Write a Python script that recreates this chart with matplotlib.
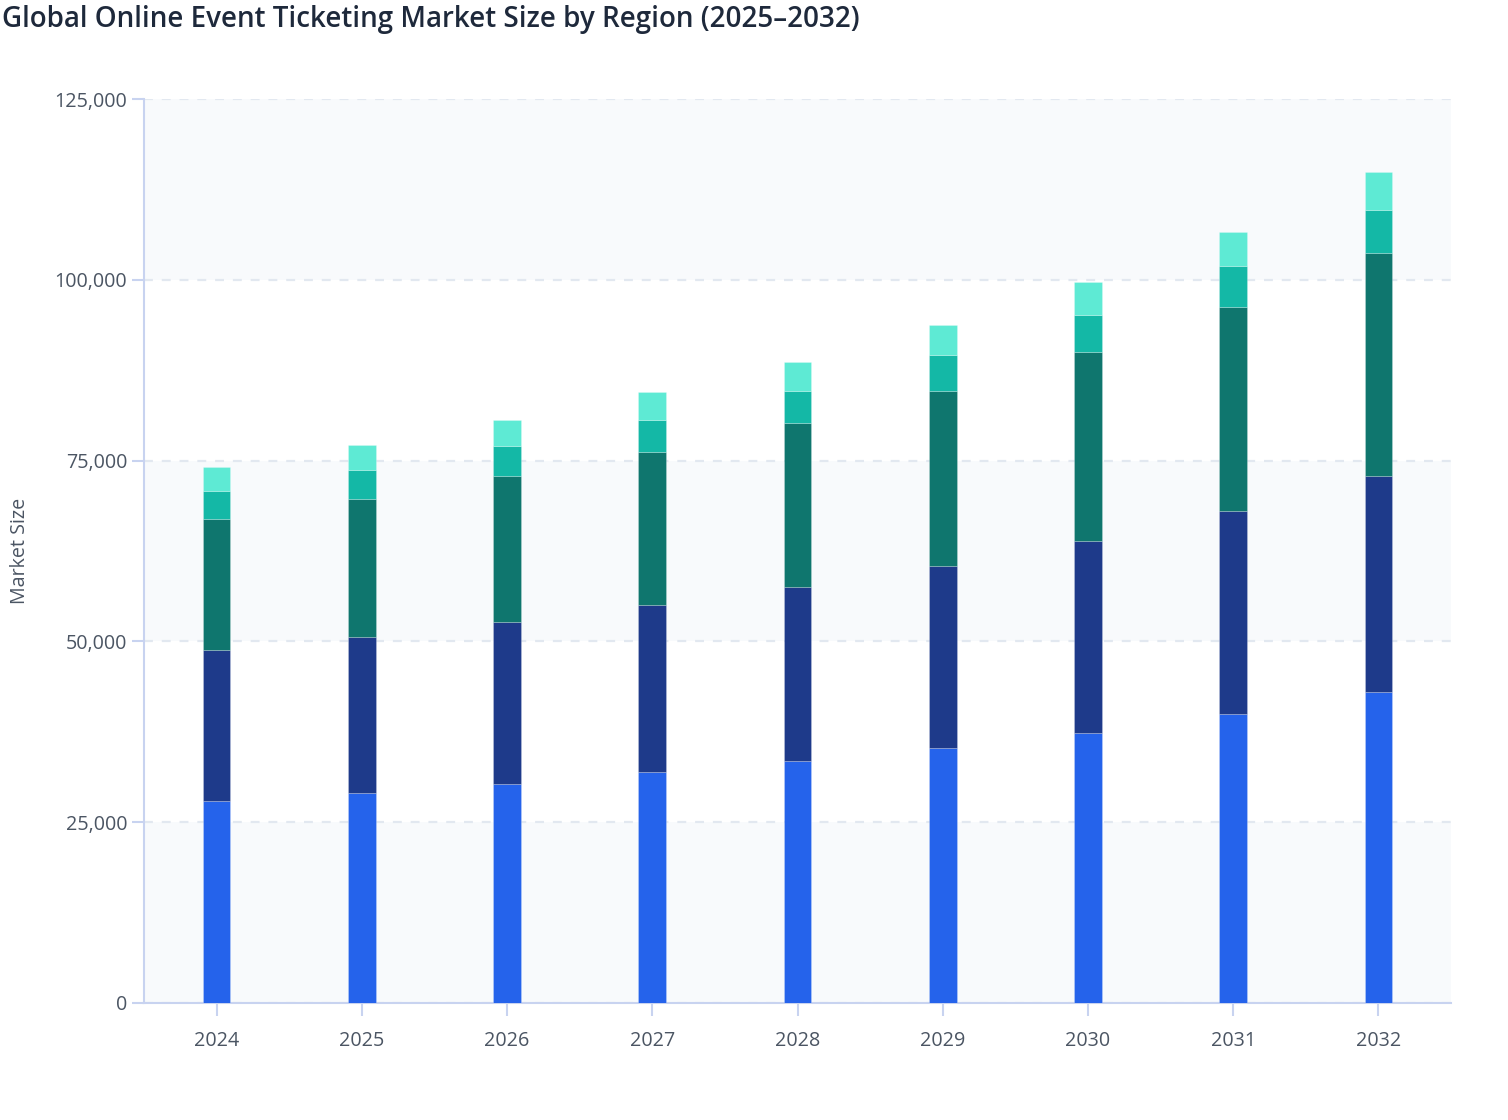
import matplotlib.pyplot as plt
import numpy as np

# data
years = [2024, 2025, 2026, 2027, 2028, 2029, 2030, 2031, 2032]
north_america = [27900, 29050, 30350, 31900, 33450, 35300, 37400, 39950, 43000]
europe = [20950, 21600, 22350, 23100, 24050, 25100, 26450, 28100, 29850]
asia_pacific = [18050, 19100, 20150, 21200, 22650, 24250, 26100, 28200, 30850]
latin_america = [3850, 3900, 4200, 4400, 4500, 4900, 5150, 5600, 6000]
middle_east_africa = [3350, 3550, 3600, 3850, 4050, 4250, 4550, 4800, 5200]

series = [
    ("North America", north_america, "#2563eb"),
    ("Europe", europe, "#1e3a8a"),
    ("Asia Pacific", asia_pacific, "#0f766e"),
    ("Latin America", latin_america, "#14b8a6"),
    ("Middle East & Africa", middle_east_africa, "#5eead4"),
]

plt.rcParams['font.family'] = ['Open Sans', 'DejaVu Sans']

fig = plt.figure(figsize=(15.08, 11.2), dpi=100)
ax = fig.add_axes([144 / 1508, 117 / 1120, (1451 - 144) / 1508, (1003 - 99) / 1120])
ax.set_facecolor("white")

# alternating background bands
for lo in [0, 50000, 100000]:
    ax.axhspan(lo, lo + 25000, color="#f8fafc", zorder=0, lw=0)

bottom = np.zeros(len(years))
for name, vals, col in series:
    ax.bar(years, vals, width=0.19, bottom=bottom, color=col, label=name,
           zorder=3, edgecolor=(1, 1, 1, 0.25), linewidth=0.6)
    bottom += np.array(vals)

ax.set_xlim(2023.5, 2032.5)
ax.set_ylim(0, 125000)
ax.set_yticks(np.arange(0, 125001, 25000))
ax.set_yticklabels([f"{v:,}" for v in range(0, 125001, 25000)])
ax.set_xticks(years)
ax.set_xticklabels([str(y) for y in years])

ax.grid(axis="y", color="#e2e8f0", linestyle=(0, (4, 4)), linewidth=1.6, zorder=1)
ax.set_axisbelow(True)

for side in ["top", "right"]:
    ax.spines[side].set_visible(False)
for side in ["left", "bottom"]:
    ax.spines[side].set_color("#c8d3f0")
    ax.spines[side].set_linewidth(1.5)

ax.tick_params(axis="both", colors="#c8d3f0", length=9, width=1.5,
               labelcolor="#4b5563", labelsize=14.2)
ax.tick_params(axis="x", pad=11)
ax.tick_params(axis="y", pad=3)

ax.set_ylabel("Market Size", fontsize=14.2, color="#4b5563", labelpad=18)

fig.text(0.001, 0.983, "Global Online Event Ticketing Market Size by Region (2025\u20132032)",
         fontsize=20, color="#1e293b", ha="left", va="center", fontweight="semibold")

fig.savefig("out.png", dpi=100, facecolor="white")
